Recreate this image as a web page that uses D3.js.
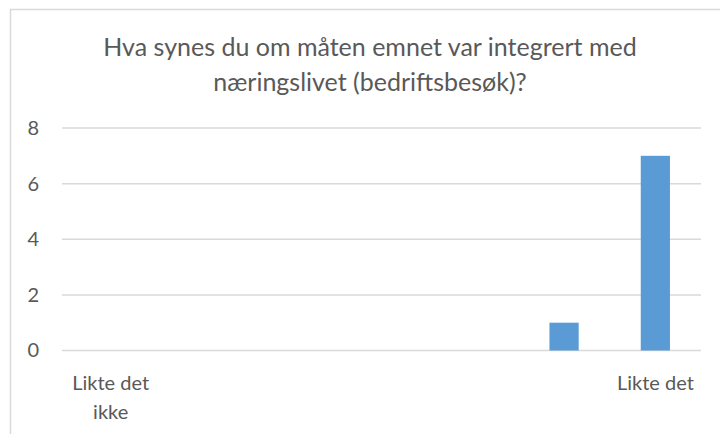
<!DOCTYPE html>
<html>
<head>
<meta charset="utf-8">
<script src="https://cdn.jsdelivr.net/npm/d3@7"></script>
<style>
    body { margin: 0; background: #fff; }
    svg { display: block; font-family: Lato, "Open Sans", sans-serif; }
</style>
</head>
<body>
<svg width="720" height="434"></svg>
<script>
// data
const categories = ['1', '2', '3', '4', '5', '6', '7'];
const values = [0, 0, 0, 0, 0, 1, 7];
const catLabels = {'1': ['Likte det', 'ikke'], '7': ['Likte det']};
const yTicks = [0, 2, 4, 6, 8];
const titleLines = ['Hva synes du om måten emnet var integrert med', 'næringslivet (bedriftsbesøk)?'];

function draw() {
    var svg = d3.select("svg");
    var margin = {left: 62, right: 19, top: 128, bottom: 84};
    var width = +svg.attr("width"), height = +svg.attr("height");

    // cut-off heading from the page above the chart
    svg.append('text')
        .attr('x', 133).attr('y', -5)
        .style('font-size', '26px')
        .style('fill', '#2e74b5')
        .text('g');

    // chart border (runs off the page to the right and bottom)
    svg.append('rect')
        .attr('x', 10.5).attr('y', 9.5)
        .attr('width', 800).attr('height', 500)
        .style('fill', 'none')
        .style('stroke', '#d9d9d9')
        .style('stroke-width', 1.5);

    var x = d3.scaleBand()
        .domain(categories)
        .range([margin.left, width - margin.right])
        .paddingInner(0.68)
        .paddingOuter(0.34);
    var y = d3.scaleLinear()
        .domain([0, 8])
        .range([height - margin.bottom + 0.5, margin.top]);

    // title
    svg.append('g').selectAll('text')
        .data(titleLines)
        .enter().append('text')
        .attr('x', 370)
        .attr('y', (d, i) => 56 + i * 35)
        .attr('text-anchor', 'middle')
        .style('font-size', '25px')
        .style('fill', '#595959')
        .text(d => d);

    // gridlines
    svg.append('g').selectAll('line')
        .data(yTicks)
        .enter().append('line')
        .attr('x1', margin.left).attr('x2', width - margin.right)
        .attr('y1', d => y(d)).attr('y2', d => y(d))
        .style('stroke', '#d9d9d9')
        .style('stroke-width', 1.5);

    // y axis labels
    var yAxis = svg.append('g')
        .attr('transform', `translate(${margin.left - 23},0)`)
        .call(d3.axisLeft(y).tickValues(yTicks).tickSize(0).tickPadding(0));
    yAxis.select('.domain').remove();
    yAxis.selectAll('text')
        .style('font-family', 'Lato, "Open Sans", sans-serif')
        .style('font-size', '20px')
        .style('fill', '#595959');

    // bars
    svg.append('g').selectAll('rect')
        .data(values)
        .enter().append('rect')
        .attr('x', (d, i) => x(categories[i]))
        .attr('width', x.bandwidth())
        .attr('y', d => y(d))
        .attr('height', d => y(0) - y(d))
        .style('fill', '#5b9bd5');

    // category labels
    var lab = svg.append('g').selectAll('text')
        .data(categories.filter(c => catLabels[c]))
        .enter().append('text')
        .attr('text-anchor', 'middle')
        .style('font-size', '20px')
        .style('fill', '#595959');
    lab.selectAll('tspan')
        .data(c => catLabels[c].map(t => ({c, t})))
        .enter().append('tspan')
        .attr('x', d => x(d.c) + x.bandwidth() / 2 + (d.c === '1' ? 3 : 0))
        .attr('y', (d, i) => 390 + i * 29)
        .text(d => d.t);
}

draw();
</script>
</body>
</html>
